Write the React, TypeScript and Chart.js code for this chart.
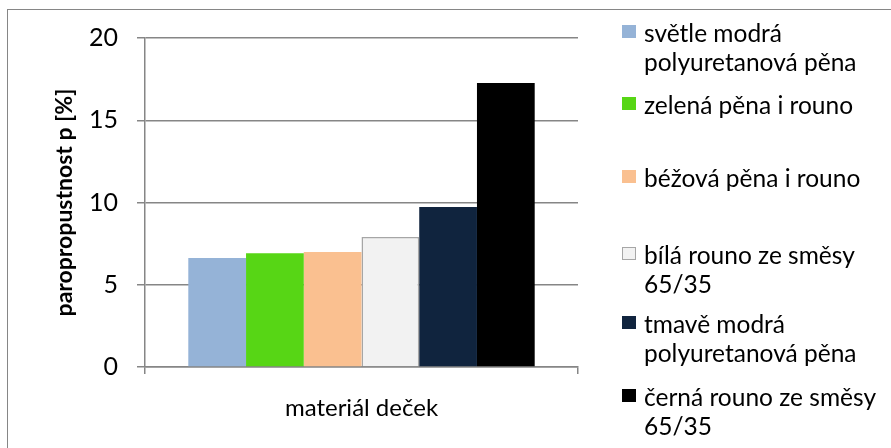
import React, { useEffect, useRef } from "react";
import { Chart, registerables } from "chart.js";

Chart.register(...registerables);

const categories = ["materiál deček"];
const seriesNames = [
  "světle modrá polyuretanová pěna",
  "zelená pěna i rouno",
  "béžová pěna i rouno",
  "bílá rouno ze směsy 65/35",
  "tmavě modrá polyuretanová pěna",
  "černá rouno ze směsy 65/35",
];
const seriesValues = [6.63, 6.91, 6.99, 7.9, 9.73, 17.26];
const seriesColors = ["#95B3D7", "#57D615", "#FAC090", "#F2F2F2", "#10243E", "#000000"];
const seriesBorderColors = ["#95B3D7", "#57D615", "#FAC090", "#A6A6A6", "#10243E", "#000000"];
const seriesBorderWidths = [0, 0, 0, 1.5, 0, 0];
const yMin = 0;
const yMax = 20;
const yStep = 5;
const yTitle = "paropropustnost p [%]";

const FONT = "Lato, 'Liberation Sans', sans-serif";
const AXIS = "#868686";

export default function App() {
  const canvasRef = useRef<HTMLCanvasElement | null>(null);

  useEffect(() => {
    document.body.style.margin = "0";
    const canvas = canvasRef.current;
    if (!canvas) return;
    const chart = new Chart(canvas, {
      type: "bar",
      data: {
        labels: categories,
        datasets: seriesNames.map((name, i) => ({
          label: name,
          data: [seriesValues[i]],
          backgroundColor: seriesColors[i],
          borderColor: seriesBorderColors[i],
          borderWidth: seriesBorderWidths[i],
          barPercentage: 1,
          categoryPercentage: 0.8,
        })),
      },
      options: {
        animation: false,
        responsive: false,
        maintainAspectRatio: false,
        layout: { padding: { left: 0, top: 38, right: 891 - 578, bottom: 0 } },
        plugins: {
          legend: { display: false },
          tooltip: { enabled: false },
        },
        scales: {
          x: {
            grid: {
              display: true,
              drawOnChartArea: false,
              drawTicks: true,
              tickLength: 7,
              color: AXIS,
              lineWidth: 1.5,
            },
            border: { display: true, color: AXIS, width: 1.5 },
            ticks: {
              color: "#000",
              font: { family: FONT, size: 24 },
              padding: 20,
            },
            afterFit: (s: any) => {
              s.height = 448 - 367;
            },
          },
          y: {
            min: yMin,
            max: yMax,
            ticks: {
              stepSize: yStep,
              color: "#000",
              font: { family: FONT, size: 25 },
              padding: 19,
            },
            grid: { color: AXIS, lineWidth: 1.5, tickLength: 8, drawTicks: true },
            border: { display: true, color: AXIS, width: 1.5 },
            title: {
              display: true,
              text: yTitle,
              color: "#000",
              font: { family: FONT, size: 23, weight: "bold" },
              padding: { top: 51, bottom: 0 },
            },
            afterFit: (s: any) => {
              s.width = 145;
            },
          },
        },
      },
    });
    return () => chart.destroy();
  }, []);

  const slot = 72.8;
  return (
    <div style={{ position: "relative", width: 891, height: 448, overflow: "hidden", background: "#fff" }}>
      <div
        style={{
          position: "absolute",
          left: 7,
          top: 9,
          width: 900,
          height: 460,
          borderLeft: "1.5px solid #868686",
          borderTop: "1.5px solid #868686",
        }}
      />
      <canvas ref={canvasRef} width={891} height={448} style={{ position: "absolute", left: 0, top: 0 }} />
      {seriesNames.map((name, i) => (
        <div
          key={name}
          style={{
            position: "absolute",
            left: 622,
            top: 17.5 + i * slot + (i === 3 ? 4 : 0),
            display: "flex",
            alignItems: "flex-start",
            fontFamily: FONT,
            fontSize: 24.5,
            lineHeight: "29px",
            color: "#000",
          }}
        >
          <div
            style={{
              width: 14,
              height: 13,
              marginTop: 7,
              marginRight: 8,
              flex: "0 0 auto",
              boxSizing: "border-box",
              background: seriesColors[i],
              border: seriesBorderWidths[i] ? `1.5px solid ${seriesBorderColors[i]}` : "none",
            }}
          />
          <div style={{ width: 252 }}>{name}</div>
        </div>
      ))}
    </div>
  );
}
